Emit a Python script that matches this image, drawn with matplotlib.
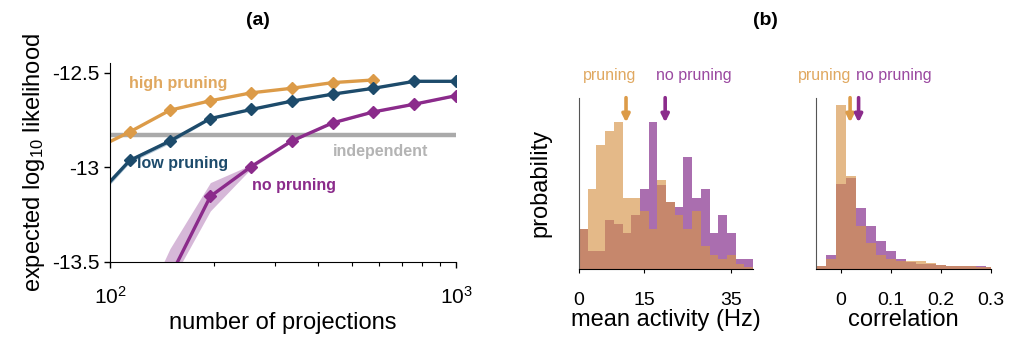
import matplotlib
matplotlib.use('Agg')
import matplotlib.pyplot as plt
import numpy as np

plt.rcParams['font.family'] = ['Liberation Sans', 'DejaVu Sans']
plt.rcParams['mathtext.fontset'] = 'custom'
plt.rcParams['mathtext.rm'] = 'Liberation Sans'
plt.rcParams['mathtext.it'] = 'Liberation Sans:italic'
plt.rcParams['mathtext.bf'] = 'Liberation Sans:bold'

# ---- panel (a): likelihood vs number of projections ----
n_proj = [76, 114, 149, 195, 256, 335, 440, 577, 758, 1000]

high_mean = [-12.97, -12.812, -12.697, -12.647, -12.605, -12.581, -12.551, -12.537]

low_mean = [-13.31, -12.963, -12.86, -12.741, -12.693, -12.649, -12.612, -12.581, -12.544, -12.544]
low_lo = [-13.33, -12.975, -12.872, -12.746, -12.696, -12.652, -12.615, -12.584, -12.547, -12.547]
low_hi = [-13.29, -12.951, -12.848, -12.736, -12.690, -12.646, -12.609, -12.578, -12.541, -12.541]

none_n = [114, 149, 195, 256, 335, 440, 577, 758, 1000]
none_mean = [-14.0, -13.58, -13.153, -12.995, -12.86, -12.764, -12.706, -12.665, -12.62]
none_lo = [-14.1, -13.617, -13.23, -13.005, -12.865, -12.768, -12.71, -12.669, -12.624]
none_hi = [-13.89, -13.43, -13.08, -12.985, -12.855, -12.760, -12.702, -12.661, -12.616]

independent_ll = -12.83

# ---- panel (b): histograms ----
rate_edges = np.arange(0, 41, 2)
rate_pruning = [3.5, 7.0, 10.9, 12.1, 12.9, 6.2, 6.2, 5.1, 3.5, 7.8,
                5.9, 4.7, 3.5, 5.1, 2.0, 1.2, 0.8, 1.2, 0.4, 0.1]
rate_nopruning = [3.5, 1.5, 1.5, 4.3, 3.9, 3.1, 4.7, 7.0, 12.9, 7.4,
                  5.9, 5.4, 9.8, 6.2, 7.0, 3.1, 4.7, 3.1, 0.8, 0.8]
rate_means = [10.8, 19.8]

corr_edges = np.round(np.arange(-0.05, 0.32, 0.02), 2)
corr_pruning = [0.6, 2.3, 41.1, 23.2, 10.6, 6.4, 3.4, 2.3, 1.9, 2.0,
                1.8, 1.5, 1.0, 0.75, 0.75, 0.75, 0.5, 0.4]
corr_nopruning = [0.6, 3.3, 21.3, 22.7, 15.2, 10.8, 7.0, 4.5, 2.5, 1.7,
                  1.25, 1.1, 1.0, 0.75, 0.75, 0.75, 0.75, 0.4]
corr_means = [0.018, 0.035]

orange = '#dc9b48'
orange_txt = '#e0a860'
blue = '#1d4b6b'
purple = '#8b2b8b'
purple_txt = '#9a48a0'
gray = '#aaaaaa'
hist_orange = '#d6954a'
hist_purple = '#aa6eaf'

fig = plt.figure(figsize=(10.1, 3.38), dpi=100)

# ---------------- panel (a) ----------------
ax = fig.add_axes([0.1089, 0.2249, 0.3426, 0.5888])
ax.set_xscale('log')

ax.fill_between(n_proj, low_lo, low_hi, color='#7fa3bd', alpha=0.6, lw=0)
ax.fill_between(none_n, none_lo, none_hi, color='#c9a0cc', alpha=0.75, lw=0)
ax.plot([100, 1000], [independent_ll, independent_ll], color=gray, lw=3.2, solid_capstyle='butt')

ax.plot(n_proj[:len(high_mean)], high_mean, color=orange, lw=2.4, marker='D', ms=6)
ax.plot(n_proj, low_mean, color=blue, lw=2.4, marker='D', ms=6)
ax.plot(none_n, none_mean, color=purple, lw=2.4, marker='D', ms=6)

ax.text(113.4, -12.553, 'high pruning', color=orange_txt, fontsize=11.5, fontweight='bold', va='center')
ax.text(119.6, -12.979, 'low pruning', color=blue, fontsize=11.5, fontweight='bold', va='center')
ax.text(441.6, -12.915, 'independent', color='#b4b4b4', fontsize=11.5, fontweight='bold', va='center')
ax.text(256.6, -13.096, 'no pruning', color=purple, fontsize=11.5, fontweight='bold', va='center')

ax.set_xlim(100, 1000)
ax.set_ylim(-13.5, -12.447)
ax.set_yticks([-12.5, -13, -13.5])
ax.set_yticklabels(['-12.5', '-13', '-13.5'])
ax.set_xticks([100, 1000])
ax.set_xticklabels(['$10^2$', '$10^3$'])
ax.tick_params(axis='both', labelsize=15, direction='out', length=4, width=1)
ax.tick_params(axis='x', which='major', pad=13)
ax.tick_params(axis='x', which='minor', direction='out', length=3, width=0.8)
ax.xaxis.set_minor_formatter(plt.NullFormatter())
for s in ['top', 'right']:
    ax.spines[s].set_visible(False)
ax.set_xlabel('number of projections', fontsize=17, labelpad=3)
ax.set_ylabel('expected log$_{10}$ likelihood', fontsize=17, labelpad=4)

fig.text(0.2555, 0.94, '(a)', fontsize=14, fontweight='bold', ha='center', va='center')
fig.text(0.7575, 0.94, '(b)', fontsize=14, fontweight='bold', ha='center', va='center')


def hist_panel(ax, edges, vals_p, vals_np, means, top):
    ax.stairs(vals_np, edges, fill=True, color=hist_purple, lw=0)
    ax.stairs(vals_p, edges, fill=True, color=hist_orange, alpha=0.66, lw=0)
    ax.set_ylim(0, top)
    ax.set_yticks([])
    for x, c in zip(means, [orange, purple]):
        ax.annotate('', xy=(x, 0.855), xytext=(x, 1.0),
                    xycoords=('data', 'axes fraction'),
                    textcoords=('data', 'axes fraction'),
                    arrowprops=dict(arrowstyle='-|>', color=c, lw=2.6,
                                    mutation_scale=11, shrinkA=0, shrinkB=0))
    for s in ['top', 'right']:
        ax.spines[s].set_visible(False)
    ax.spines['left'].set_color('#555555')
    ax.tick_params(axis='x', labelsize=14, direction='out', length=3, pad=14)


# ---------------- panel (b) left: mean activity ----------------
ax2 = fig.add_axes([0.5733, 0.2056, 0.1723, 0.5054])
hist_panel(ax2, rate_edges, rate_pruning, rate_nopruning, rate_means, 15.06)
ax2.set_xlim(0, 40)
ax2.set_xticks([0, 15, 35])
ax2.set_xlabel('mean activity (Hz)', fontsize=17, labelpad=0)
ax2.set_ylabel('probability', fontsize=17, labelpad=20)
ax2.text(7.0, 1.129, 'pruning', color=orange_txt, fontsize=11.5, ha='center', va='center',
         transform=ax2.get_xaxis_transform())
ax2.text(26.4, 1.129, 'no pruning', color=purple_txt, fontsize=11.5, ha='center', va='center',
         transform=ax2.get_xaxis_transform())

# ---------------- panel (b) right: correlation ----------------
ax3 = fig.add_axes([0.808, 0.2056, 0.1733, 0.5054])
hist_panel(ax3, corr_edges, corr_pruning, corr_nopruning, corr_means, 42.9)
ax3.set_xlim(-0.05, 0.3)
ax3.set_xticks([0, 0.1, 0.2, 0.3])
ax3.set_xticklabels(['0', '0.1', '0.2', '0.3'])
ax3.set_xlabel('correlation', fontsize=17, labelpad=0)
ax3.text(-0.0327, 1.129, 'pruning', color=orange_txt, fontsize=11.5, ha='center', va='center',
         transform=ax3.get_xaxis_transform())
ax3.text(0.1047, 1.129, 'no pruning', color=purple_txt, fontsize=11.5, ha='center', va='center',
         transform=ax3.get_xaxis_transform())

fig.savefig('out.png', dpi=100)
